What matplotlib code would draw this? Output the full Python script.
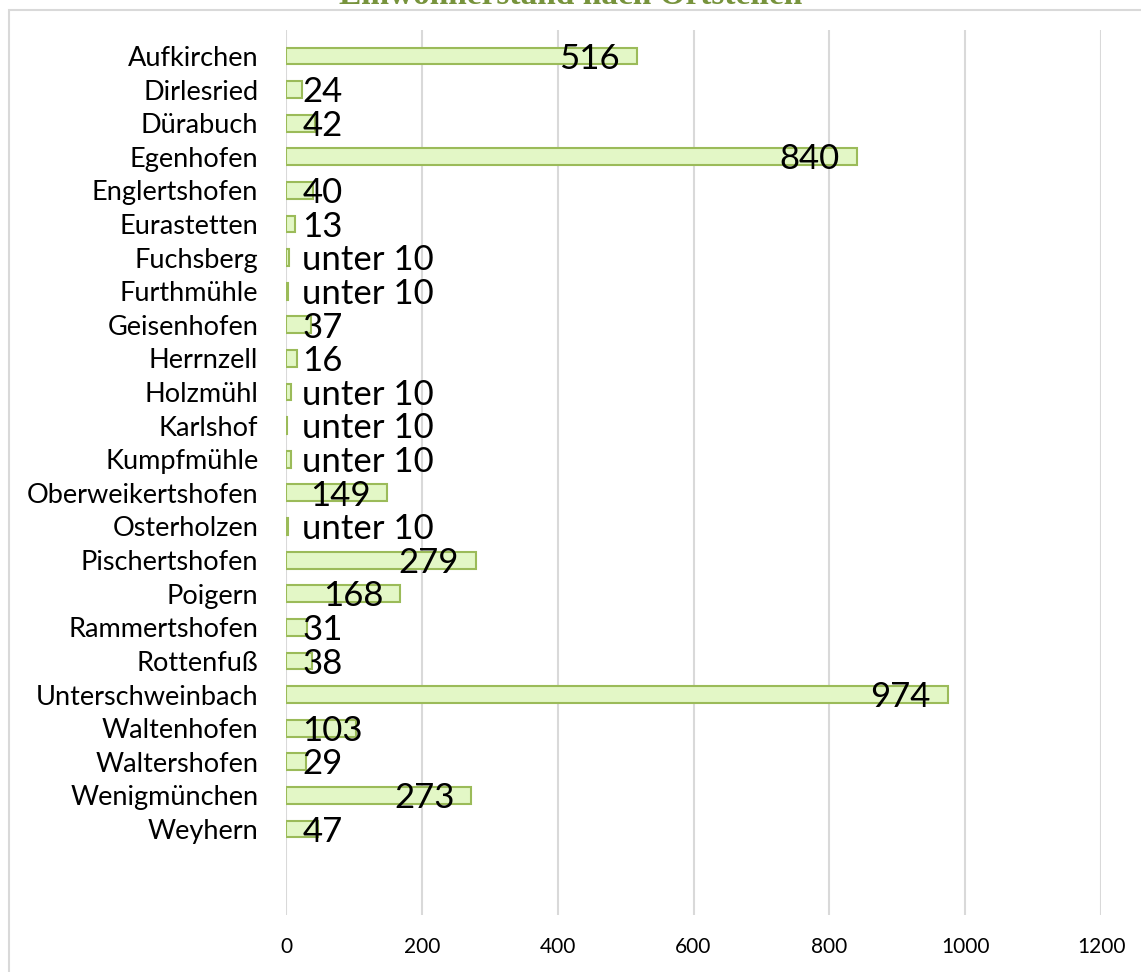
import matplotlib.pyplot as plt
from matplotlib.patches import Rectangle

# data
orte = ["Aufkirchen", "Dirlesried", "Dürabuch", "Egenhofen", "Englertshofen",
        "Eurastetten", "Fuchsberg", "Furthmühle", "Geisenhofen", "Herrnzell",
        "Holzmühl", "Karlshof", "Kumpfmühle", "Oberweikertshofen", "Osterholzen",
        "Pischertshofen", "Poigern", "Rammertshofen", "Rottenfuß",
        "Unterschweinbach", "Waltenhofen", "Waltershofen", "Wenigmünchen", "Weyhern"]
einwohner = [516, 24, 42, 840, 40, 13, 4, 3, 37, 16, 8, 2, 8, 149, 3,
             279, 168, 31, 38, 974, 103, 29, 273, 47]
beschriftung = ["516", "24", "42", "840", "40", "13", "unter 10", "unter 10", "37", "16",
                "unter 10", "unter 10", "unter 10", "149", "unter 10", "279", "168", "31",
                "38", "974", "103", "29", "273", "47"]
xticks = [0, 200, 400, 600, 800, 1000, 1200]

plt.rcParams['font.family'] = ['Lato', 'DejaVu Sans']

fig = plt.figure(figsize=(11.41, 9.72), dpi=100)
ax = fig.add_axes([0.2507, 0.0586, 0.7143, 0.9105])

pos = list(range(len(orte)))
ax.barh(pos, einwohner, height=0.5, color="#e3f7c6", edgecolor="#9bbb59", linewidth=1.5, zorder=3)

ax.set_xlim(0, 1200)
ax.set_ylim(25.56, -0.77)
ax.set_xticks(xticks)
ax.set_xticklabels([str(t) for t in xticks], fontsize=15)
ax.set_yticks(pos)
ax.set_yticklabels(orte, fontsize=19.5)
ax.tick_params(length=0)
ax.tick_params(axis="x", pad=16)
ax.tick_params(axis="y", pad=20)
ax.grid(axis="x", color="#d9d9d9", linewidth=1.5, zorder=0)
for s in ax.spines.values():
    s.set_visible(False)

# value labels: inside end, but never left of a minimum position
fig.canvas.draw()
renderer = fig.canvas.get_renderer()
inv = ax.transData.inverted()
for p, v, txt in zip(pos, einwohner, beschriftung):
    t = ax.text(0, p + 0.08, txt, fontsize=25, va="center", ha="left", zorder=4)
    bb = t.get_window_extent(renderer)
    w = inv.transform((bb.x1, 0))[0] - inv.transform((bb.x0, 0))[0]
    t.set_x(max(24, v - 25 - w))

# chart frame and cut-off title
fig.patches.append(Rectangle((9 / 1141, -0.01), 1.2, 1 - 10 / 972 + 0.01, transform=fig.transFigure,
                             fill=False, edgecolor="#d9d9d9", linewidth=1.5))
fig.text(0.5, 1 - 4 / 972, "Einwohnerstand nach Ortsteilen", ha="center", va="baseline",
         fontsize=24, fontweight="bold", family="Liberation Serif", color="#77933c")

fig.savefig("out.png")
